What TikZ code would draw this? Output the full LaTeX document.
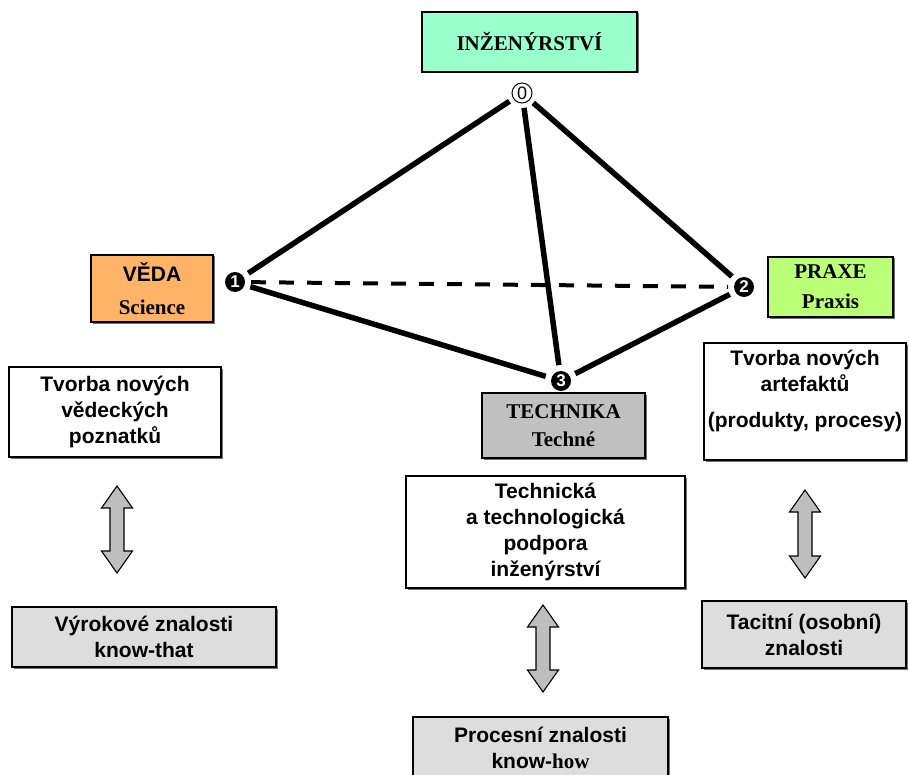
\documentclass[tikz,border=0pt]{standalone}
\usepackage{fontspec}
\setmainfont{Liberation Serif}
\setsansfont{Liberation Sans}
\usetikzlibrary{shadows}

\definecolor{ingfill}{HTML}{99FFCC}
\definecolor{vedafill}{HTML}{FFB366}
\definecolor{praxefill}{HTML}{BBFF77}
\definecolor{techfill}{HTML}{C0C0C0}
\definecolor{knowfill}{HTML}{DDDDDD}
\definecolor{arrowfill}{HTML}{BEBEBE}

% vertical two-headed block arrow: centre x, top y, bottom y
\newcommand{\blockarrowv}[3]{%
  \draw[blockarrow] (#1,#2) -- (#1+15.5,#2+22) -- (#1+7,#2+22) -- (#1+7,#3-22)
    -- (#1+15.5,#3-22) -- (#1,#3) -- (#1-15.5,#3-22) -- (#1-7,#3-22)
    -- (#1-7,#2+22) -- (#1-15.5,#2+22) -- cycle;}

\begin{document}
\begin{tikzpicture}[x=1pt,y=-1pt,
  box/.style={draw=black, line width=1.2pt, inner sep=0pt, align=center,
    font=\sffamily\bfseries\fontsize{21}{26}\selectfont,
    drop shadow={shadow xshift=1.5pt, shadow yshift=-1.5pt, fill=black!55, opacity=1}},
  serifbox/.style={box, font=\rmfamily\bfseries\fontsize{21}{26}\selectfont},
  vtx/.style={circle, fill=black, text=white, inner sep=0pt, minimum size=20pt,
    outer sep=6pt, font=\sffamily\bfseries\fontsize{17}{17}\selectfont},
  apex/.style={circle, draw=black, line width=1pt, fill=white, inner sep=0pt,
    minimum size=20pt, outer sep=5pt, font=\sffamily\fontsize{18}{18}\selectfont},
  edge/.style={line width=5.5pt},
  dashedge/.style={line width=4pt, dash pattern=on 15pt off 13pt},
  blockarrow/.style={draw=black, line width=1.1pt, fill=arrowfill, line join=miter}
]
\useasboundingbox (0,0) rectangle (909,775);

% tetrahedron vertices
\node[apex] (n0) at (522,93) {0};
\node[vtx] (n1) at (235,282) {1};
\node[vtx] (n2) at (744,287) {2};
\node[vtx] (n3) at (561,381) {3};

% edges
\draw[edge] (n0) -- (n1);
\draw[edge] (n0) -- (n2);
\draw[edge] (n0) -- (n3);
\draw[edge] (n1) -- (n3);
\draw[edge] (n3) -- (n2);
\draw[dashedge] (n1) -- (n2);

% labelled corners
\node[serifbox, fill=ingfill, minimum width=215pt, minimum height=60pt] (ing) at (529.5,42) {INŽENÝRSTVÍ};
\node[box, fill=vedafill, minimum width=122pt, minimum height=67pt] (veda) at (152,288.5) {VĚDA\\[7pt]{\rmfamily Science}};
\node[serifbox, fill=praxefill, minimum width=125pt, minimum height=60pt] (praxe) at (830.5,287) {PRAXE\\[4pt]Praxis};
\node[serifbox, fill=techfill, minimum width=163pt, minimum height=65pt] (tech) at (563.5,425.5) {TECHNIKA\\[2pt]Techné};

% activity boxes
\node[box, fill=white, minimum width=212pt, minimum height=90pt] (tv1) at (115,412) {Tvorba nových\\vědeckých\\poznatků};
\node[box, fill=white, minimum width=202pt, minimum height=117pt] (tv2) at (805,401.5) {Tvorba nových\\artefaktů\\[10pt](produkty, procesy)\\\mbox{}};
\node[box, fill=white, minimum width=279pt, minimum height=112pt] (tvt) at (545.5,532) {Technická\\a technologická\\podpora\\inženýrství};

% knowledge boxes
\node[box, fill=knowfill, minimum width=264pt, minimum height=60pt] (vyr) at (144,637) {Výrokové znalosti\\know-that};
\node[box, fill=knowfill, minimum width=204pt, minimum height=67pt] (tac) at (804,634.5) {Tacitní (osobní)\\znalosti};
\node[box, fill=knowfill, minimum width=255pt, minimum height=62pt] (proc) at (540.5,748) {Procesní znalosti\\know-{\rmfamily how}};

% two-way block arrows between activity and knowledge
\blockarrowv{117}{486}{573}
\blockarrowv{543}{605}{692}
\blockarrowv{805}{490}{578}
\end{tikzpicture}
\end{document}
